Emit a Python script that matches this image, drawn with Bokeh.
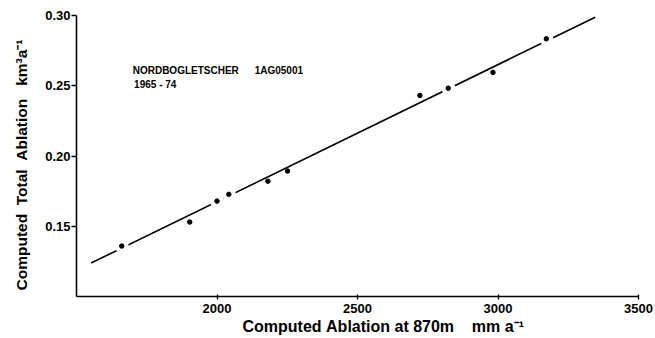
import numpy as np
from bokeh.plotting import figure
from bokeh.models import Label, Title, FixedTicker, PrintfTickFormatter
from bokeh.embed import file_html
from bokeh.resources import INLINE

# Data
ablation_870m = [1661, 1903, 2000, 2042, 2181, 2251, 2722, 2823, 2982, 3172]   # mm a-1
total_ablation = [0.1359, 0.1530, 0.1679, 0.1727, 0.1821, 0.1893, 0.2431, 0.2483, 0.2595, 0.2834]  # km3 a-1

fit_x = [1552, 3346]
fit_y = [0.1238, 0.2988]

x_ticks = [2000, 2500, 3000, 3500]
y_ticks = [0.15, 0.20, 0.25, 0.30]

title_name = "NORDBOGLETSCHER"
title_code = "1AG05001"
title_period = "1965 - 74"

FONT = "Liberation Sans"
NB = "\u00a0"
x_title = f"Computed{NB}Ablation{NB}at{NB}870m{NB}{NB}{NB}{NB}mm{NB}a\u207b\u00b9"
y_title = f"Computed{NB}{NB}Total{NB}{NB}Ablation{NB}{NB}{NB}km\u00b3a\u207b\u00b9"

p = figure(width=655, height=338, x_range=(1500, 3500), y_range=(0.10, 0.30),
           output_backend="svg", toolbar_location=None,
           min_border_left=76, min_border_right=17, min_border_top=15, min_border_bottom=42)
p.outline_line_color = None
p.xgrid.visible = False
p.ygrid.visible = False
p.background_fill_color = "white"
p.border_fill_color = "white"

# regression line
p.line(fit_x, fit_y, line_color="black", line_width=1.6)

# white halos (line interruptions) for points lying on the line
xs = np.array(ablation_870m, dtype=float)
ys = np.array(total_ablation, dtype=float)
slope = (fit_y[1] - fit_y[0]) / (fit_x[1] - fit_x[0])
resid = np.abs(ys - (fit_y[0] + slope * (xs - fit_x[0])))
on_line = resid < 0.002
p.scatter(xs[on_line], ys[on_line], size=14, fill_color="white", line_color=None)

# data points
p.scatter(ablation_870m, total_ablation, size=4.5, fill_color="black", line_color="black")

# axes styling
for ax in (p.xaxis, p.yaxis):
    ax.axis_line_color = "black"
    ax.axis_line_width = 1.6
    ax.major_tick_line_color = "black"
    ax.major_tick_line_width = 1.3
    ax.minor_tick_line_color = None
    ax.major_label_text_font = FONT
    ax.major_label_text_font_style = "bold"
    ax.major_label_text_font_size = "13px"
    ax.major_label_text_color = "black"

p.xaxis.ticker = FixedTicker(ticks=x_ticks)
p.xaxis.formatter = PrintfTickFormatter(format="%d")
p.xaxis.major_tick_in = 2
p.xaxis.major_tick_out = 3
p.xaxis.major_label_standoff = 4

p.yaxis.ticker = FixedTicker(ticks=y_ticks)
p.yaxis.formatter = PrintfTickFormatter(format="%.2f")
p.yaxis.major_tick_in = 0
p.yaxis.major_tick_out = 5
p.yaxis.major_label_standoff = 1

# axis titles as side titles (positioned like the reference)
p.add_layout(Title(text=x_title, align="left", offset=166, standoff=0,
                   text_font=FONT, text_font_style="bold", text_font_size="16px",
                   text_color="black"), "below")
p.add_layout(Title(text=y_title, align="left", offset=6, standoff=22, vertical_align="top",
                   text_font=FONT, text_font_style="bold", text_font_size="15.5px",
                   text_color="black"), "left")

# annotation
for txt, xv, yv in [(title_name, 1700, 0.2648), (title_code, 2134, 0.2648), (title_period, 1705, 0.2550)]:
    p.add_layout(Label(x=xv, y=yv, text=txt, text_font=FONT, text_font_style="bold",
                       text_font_size="10px", text_baseline="top", text_color="black"))

open("out.html", "w").write(file_html(p, INLINE))
